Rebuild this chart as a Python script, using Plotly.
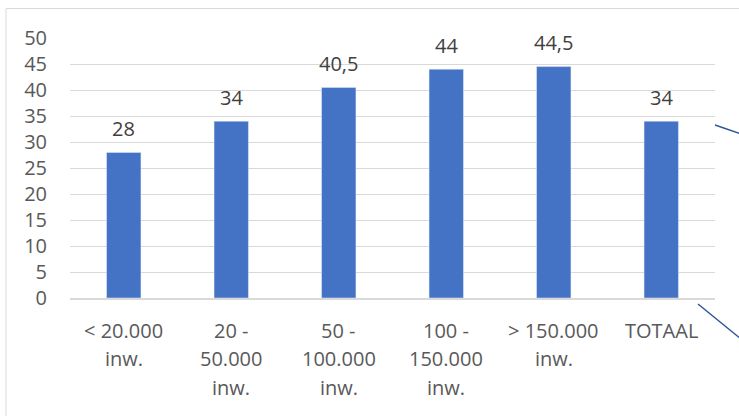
import plotly.graph_objects as go

categories = ["< 20.000 inw.", "20 - 50.000 inw.", "50 - 100.000 inw.",
              "100 - 150.000 inw.", "> 150.000 inw.", "TOTAAL"]
label_lines = [["< 20.000", "inw."], ["20 -", "50.000", "inw."], ["50 -", "100.000", "inw."],
               ["100 -", "150.000", "inw."], ["> 150.000", "inw."], ["TOTAAL"]]
values = [28, 34, 40.5, 44, 44.5, 34]
y_ticks = [0, 5, 10, 15, 20, 25, 30, 35, 40, 45, 50]

W, H = 739, 416
L, R, T, B = 70, 715, 38, 298
FONT = "Open Sans"
FS = 20

def px(x):
    return (x - L) / (R - L)

def py(y):
    return (B - y) / (B - T)

fig = go.Figure(go.Bar(x=categories, y=values, marker_color="#4472C4",
                       width=0.32, hoverinfo="skip"))

annotations = []
for c, v in zip(categories, values):
    txt = (str(int(v)) if float(v).is_integer() else str(v)).replace(".", ",")
    annotations.append(dict(x=c, y=v, xref="x", yref="y", text=txt, showarrow=False,
                            yanchor="middle", yshift=24,
                            font=dict(family=FONT, size=FS, color="#404040")))
for c, lines in zip(categories, label_lines):
    for i, ln in enumerate(lines):
        annotations.append(dict(x=c, y=0, xref="x", yref="paper", text=ln, showarrow=False,
                                yanchor="middle", yshift=-(32 + 28.5 * i),
                                font=dict(family=FONT, size=FS, color="#595959")))

shapes = [
    dict(type="rect", xref="paper", yref="paper", x0=px(6), x1=px(760), y0=py(440), y1=py(8.5),
         line=dict(color="#D9D9D9", width=1), layer="below"),
    dict(type="line", xref="paper", yref="paper", x0=px(715), y0=py(125), x1=px(741), y1=py(134),
         line=dict(color="#2F5597", width=1.5)),
    dict(type="line", xref="paper", yref="paper", x0=px(698), y0=py(304), x1=px(741), y1=py(339),
         line=dict(color="#2F5597", width=1.5)),
]

fig.update_layout(
    width=W, height=H,
    margin=dict(l=L, r=W - R, t=T, b=H - B, pad=0),
    paper_bgcolor="white", plot_bgcolor="white",
    showlegend=False,
    annotations=annotations, shapes=shapes,
    font=dict(family=FONT, size=FS, color="#595959"),
    xaxis=dict(showticklabels=False, showgrid=False, showline=True,
               linecolor="#D9D9D9", linewidth=1.5, ticks="", fixedrange=True),
    yaxis=dict(range=[0, 50], tickvals=y_ticks, showgrid=True, gridcolor="#D9D9D9",
               gridwidth=1.3, zeroline=False, showline=False, ticks="",
               ticklabelstandoff=22, tickfont=dict(family=FONT, size=FS, color="#595959"),
               fixedrange=True),
)

fig.write_html("out.html", config={"displayModeBar": False},
               post_script="document.body.style.margin='0';document.body.style.overflow='hidden';")
